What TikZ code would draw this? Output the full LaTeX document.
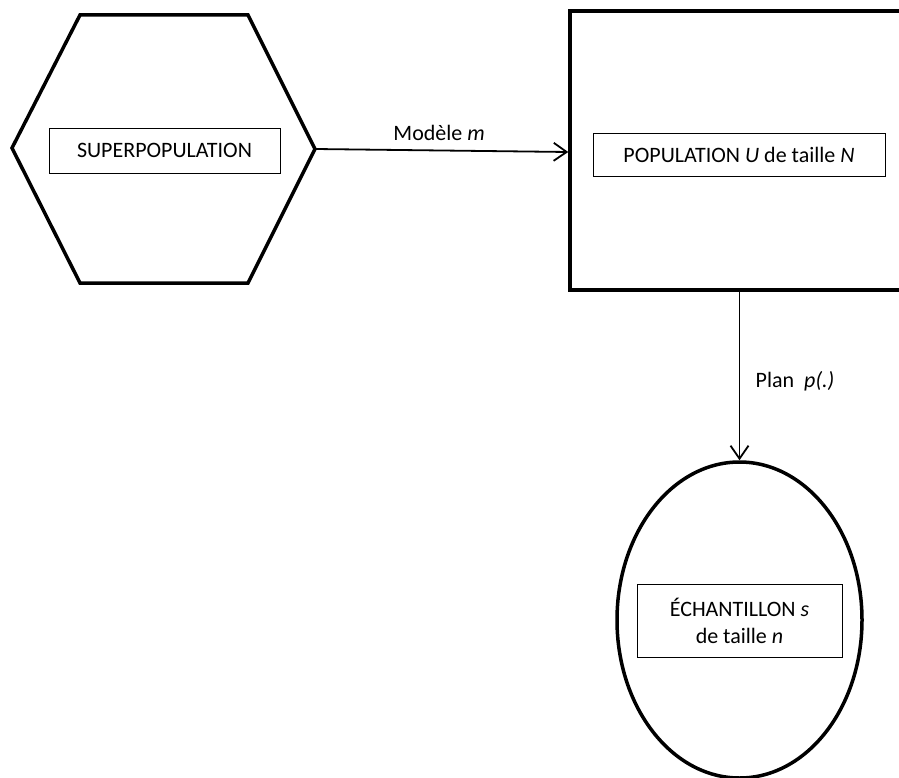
\documentclass[tikz,border=0pt]{standalone}
\usepackage{fontspec}
\setmainfont{Carlito}
\usetikzlibrary{shapes.geometric,arrows.meta}

\begin{document}
\begin{tikzpicture}[
  x=1pt, y=-1pt,
  font=\fontsize{22}{27}\selectfont,
  outer/.style={draw, line width=3.5pt},
  label box/.style={draw, line width=0.9pt, align=center, inner sep=0pt},
  arr/.style={-{Straight Barb[length=13pt,width=18pt,line width=1.8pt]}, line width=1.8pt}
]
\useasboundingbox (0,0) rectangle (899,778);

% superpopulation
\draw[outer, line join=miter] (12,148) -- (80,15) -- (248,15) -- (315,149) -- (248,283) -- (80,283) -- cycle;
\coordinate (hexE) at (315,149);
\node[label box, minimum width=231pt, minimum height=45pt] (super) at (164.5,150.5) {SUPERPOPULATION};

% population
\node[outer, minimum width=370pt, minimum height=279pt, inner sep=0pt] (pop) at (755,150.5) {};
\node[label box, minimum width=292pt, minimum height=43pt] (poptxt) at (739,154.5) {POPULATION \textit{U} de taille \textit{N}};

% echantillon
\node[outer, ellipse, minimum width=245pt, minimum height=316pt, inner sep=0pt] (ech) at (739.5,620) {};
\node[label box, minimum width=205pt, minimum height=73pt] (echtxt) at (739.5,620.5) {ÉCHANTILLON \textit{s}\\de taille \textit{n}};

\draw[arr] (hexE) -- (pop.west |- 0,152) node[pos=0.49, above=6pt] {Modèle \textit{m}};
\draw[arr] (ech.north |- pop.south) coordinate (plan) -- (ech.north) node[pos=0.53, right=12pt] {Plan\ \ \textit{p(.)}};
\end{tikzpicture}
\end{document}
